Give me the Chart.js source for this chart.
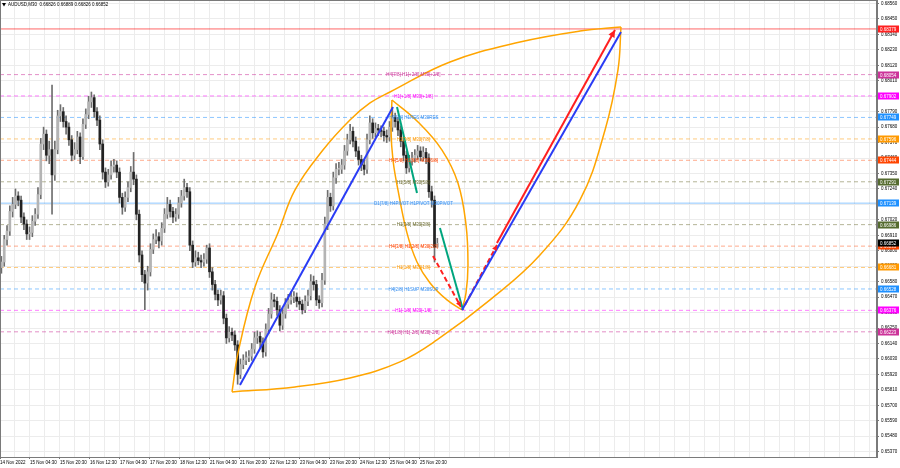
<!DOCTYPE html>
<html>
<head>
<meta charset="utf-8">
<title>AUDUSD,M30</title>
<script src="https://cdn.jsdelivr.net/npm/chart.js@4.4.0/dist/chart.umd.min.js"></script>
<style>
  html, body { margin: 0; padding: 0; background: #fff; }
  #wrap { width: 900px; height: 468px; }
</style>
</head>
<body>
<div id="wrap"><canvas id="chart" width="900" height="468"></canvas></div>
<script>
const symbolTitle = 'AUDUSD,M30  0.66826 0.66889 0.66826 0.66852';

// candles, one every 3 M30 bars; open = previous close
const firstOpen = 0.6668;
const closes = [
  0.6672,0.6688,0.6694,0.6708,0.6713,0.6719,0.6716,0.6704,0.6699,0.6692,
  0.6693,0.6701,0.6706,0.6720,0.6756,0.6763,0.6748,0.6752,0.6734,0.6752,
  0.6776,0.6779,0.6772,0.6768,0.6759,0.6748,0.6752,0.6761,0.6747,0.6770,
  0.6777,0.6786,0.6789,0.6779,0.6773,0.6756,0.6736,0.6729,0.6734,0.6740,
  0.6741,0.6736,0.6718,0.6711,0.6718,0.6725,0.6736,0.6731,0.6706,0.6677,
  0.6663,0.6657,0.6665,0.6681,0.6688,0.6690,0.6687,0.6696,0.6706,0.6713,
  0.6708,0.6704,0.6706,0.6714,0.6719,0.6725,0.6722,0.6684,0.6672,0.6675,
  0.6673,0.6672,0.6674,0.6682,0.6665,0.6656,0.6649,0.6645,0.6648,0.6632,
  0.6618,0.6622,0.6620,0.6613,0.6592,0.6599,0.6602,0.6604,0.6605,0.6610,
  0.6618,0.6619,0.6615,0.6608,0.6624,0.6635,0.6645,0.6644,0.6638,0.6627,
  0.6635,0.6642,0.6645,0.6647,0.6647,0.6644,0.6642,0.6638,0.6644,0.6648,
  0.6658,0.6656,0.6645,0.6643,0.6659,0.6699,0.6718,0.6712,0.6732,0.6738,
  0.6738,0.6741,0.6751,0.6759,0.6765,0.6758,0.6751,0.6745,0.6741,0.6738,
  0.6759,0.6771,0.6764,0.6767,0.6766,0.6765,0.6762,0.6761,0.6768,0.6775,
  0.6772,0.6766,0.6758,0.6748,0.6739,0.6744,0.6746,0.6748,0.6751,0.6747,
  0.6750,0.6746,0.6722,0.6716,0.66826,0.66852
];
const highs = [
  0.6676,0.6691,0.6698,0.6712,0.6718,0.6724,0.6722,0.6719,0.6707,0.6702,
  0.6697,0.6705,0.6710,0.6725,0.6760,0.6768,0.6766,0.6758,0.6798,0.6758,
  0.6780,0.6784,0.6782,0.6776,0.6771,0.6762,0.6757,0.6765,0.6764,0.6774,
  0.6781,0.6790,0.6793,0.6791,0.6782,0.6776,0.6759,0.6739,0.6738,0.6744,
  0.6745,0.6744,0.6739,0.6721,0.6722,0.6729,0.6740,0.6750,0.6734,0.6709,
  0.6680,0.6666,0.6669,0.6685,0.6692,0.6695,0.6693,0.6700,0.6710,0.6718,
  0.6716,0.6711,0.6710,0.6718,0.6723,0.6731,0.6728,0.6725,0.6687,0.6680,
  0.6679,0.6677,0.6678,0.6684,0.6685,0.6668,0.6659,0.6652,0.6652,0.6651,
  0.6635,0.6626,0.6625,0.6623,0.6616,0.6603,0.6606,0.6608,0.6609,0.6614,
  0.6622,0.6623,0.6622,0.6618,0.6628,0.6639,0.6650,0.6649,0.6647,0.6641,
  0.6639,0.6646,0.6649,0.6651,0.6651,0.6650,0.6647,0.6645,0.6648,0.6652,
  0.6663,0.6662,0.6659,0.6648,0.6664,0.6704,0.6723,0.6721,0.6736,0.6742,
  0.6743,0.6745,0.6755,0.6763,0.6770,0.6768,0.6761,0.6754,0.6748,0.6745,
  0.6763,0.6776,0.6774,0.6771,0.6770,0.6769,0.6768,0.6766,0.6772,0.6781,
  0.6778,0.6775,0.6769,0.6761,0.6751,0.6748,0.6750,0.6752,0.6755,0.6754,
  0.6754,0.6753,0.6749,0.6726,0.6719,0.66889
];
const lows = [
  0.6664,0.6669,0.6684,0.6691,0.6704,0.6710,0.6712,0.6700,0.6695,0.6688,
  0.6688,0.6690,0.6698,0.6703,0.6717,0.6752,0.6744,0.6742,0.6706,0.6730,
  0.6749,0.6772,0.6768,0.6763,0.6755,0.6744,0.6745,0.6749,0.6742,0.6745,
  0.6767,0.6774,0.6782,0.6775,0.6769,0.6752,0.6731,0.6725,0.6726,0.6731,
  0.6736,0.6732,0.6714,0.6706,0.6708,0.6715,0.6722,0.6727,0.6702,0.6672,
  0.6658,0.6638,0.6652,0.6662,0.6678,0.6685,0.6682,0.6684,0.6693,0.6703,
  0.6704,0.6700,0.6701,0.6703,0.6711,0.6716,0.6718,0.6680,0.6668,0.6669,
  0.6670,0.6668,0.6669,0.6671,0.6661,0.6652,0.6645,0.6641,0.6642,0.6628,
  0.6614,0.6615,0.6616,0.6609,0.6585,0.6589,0.6596,0.6599,0.6601,0.6602,
  0.6607,0.6614,0.6611,0.6604,0.6605,0.6621,0.6632,0.6640,0.6634,0.6623,
  0.6624,0.6632,0.6639,0.6642,0.6643,0.6640,0.6638,0.6635,0.6636,0.6641,
  0.6645,0.6652,0.6641,0.6639,0.6640,0.6656,0.6695,0.6708,0.6709,0.6728,
  0.6734,0.6735,0.6738,0.6748,0.6756,0.6754,0.6747,0.6741,0.6737,0.6734,
  0.6735,0.6756,0.6760,0.6761,0.6762,0.6761,0.6758,0.6757,0.6758,0.6765,
  0.6768,0.6762,0.6754,0.6744,0.6735,0.6736,0.6741,0.6743,0.6745,0.6744,
  0.6744,0.6742,0.6718,0.6711,0.6672,0.66826
];

const timeLabels = [
  '14 Nov 2022', '15 Nov 04:30', '15 Nov 20:30', '16 Nov 12:30', '17 Nov 04:30',
  '17 Nov 20:30', '18 Nov 12:30', '21 Nov 04:30', '21 Nov 20:30', '22 Nov 12:30',
  '23 Nov 04:30', '23 Nov 20:30', '24 Nov 12:30', '25 Nov 04:30', '25 Nov 20:30'
];
const priceTicks = [
  0.65370, 0.65480, 0.65590, 0.65700, 0.65810, 0.65920, 0.66030, 0.66140, 0.66250, 0.66360,
  0.66470, 0.66580, 0.66690, 0.66800, 0.66910, 0.67020, 0.67130, 0.67240, 0.67350, 0.67460,
  0.67570, 0.67680, 0.67790, 0.67900, 0.68010, 0.68120, 0.68230, 0.68340, 0.68450, 0.68560
];

// Murrey levels
const levelPrices = [0.68379, 0.68054, 0.67902, 0.67749, 0.67596, 0.67444, 0.67291,
  0.67139, 0.66986, 0.66833, 0.66681, 0.66528, 0.66376, 0.66223];
const levelNames = [
  '', 'H4[7/8] H1[+2/8] M30[+2/8]', 'H1[+1/8] M30[+1/8]', 'H4[6/8] H1RES M30RES',
  'H1[7/8] M30[7/8]', 'H4[5/8] H1[6/8] M30[6/8]', 'H1[5/8] M30[5/8]',
  'D1[7/8] H4PIVOT H1PIVOT M30PIVOT', 'H1[3/8] M30[3/8]', 'H4[3/8] H1[2/8] M30[2/8]',
  'H1[1/8] M30[1/8]', 'H4[2/8] H1SUP M30SUP', 'H1[-1/8] M30[-1/8]', 'H4[1/8] H1[-2/8] M30[-2/8]'
];
const bidPrice = 0.66852;

// drawn objects: [time (M30 bars from 14 Nov 12:30), price]
const arcUpper = [[247.5,0.65795],[253.9,0.66073],[272.0,0.66542],[296.5,0.66927],[314.7,0.67233],
  [344.5,0.67517],[373.3,0.67731],[394.7,0.67852],[416.0,0.67930],[480.0,0.68144],
  [554.7,0.68286],[618.7,0.68364],[662.4,0.68393]];
const arcLower = [[247.5,0.65795],[314.7,0.65831],[373.3,0.65895],[426.7,0.66009],[466.1,0.66165],
  [522.7,0.66450],[576.0,0.66770],[618.7,0.67162],[645.4,0.67660],[659.2,0.68087],[662.4,0.68393]];
const lensLeft = [[418.1,0.67873],[417.1,0.67660],[419.2,0.67446],[424.5,0.67233],[434.1,0.66927],
  [444.8,0.66720],[458.7,0.66571],[476.8,0.66450],[492.8,0.66379]];
const lensRight = [[418.1,0.67873],[445.9,0.67717],[471.5,0.67517],[488.5,0.67283],[497.1,0.66984],
  [499.2,0.66699],[497.1,0.66500],[492.8,0.66379]];
const blueTrend1 = [[256.0,0.65845],[419.2,0.67823]];
const blueTrend2 = [[492.8,0.66379],[662.4,0.68357]];
const redTarget = [[530.1,0.66856],[656.0,0.68372]];
const greenTrend1 = [[423.5,0.67823],[444.8,0.67211]];
const greenTrend2 = [[469.3,0.66962],[493.9,0.66379]];
const redDash1 = [[461.9,0.66763],[491.7,0.66400]];
const redDash2 = [[496.0,0.66414],[530.1,0.66841]];

// --- styles ---
const BARS_PER_CANDLE = 3;
const X_MAX = 935.5;
const Y_MIN = 0.65332;
const Y_MAX = 0.68585;
const LABEL_X = 441;
const FONT = '"Liberation Sans", Arial, sans-serif';
const levelLineColors = ['rgba(255,0,0,0.6)', 'rgba(204,51,153,0.55)', 'rgba(255,0,255,0.5)',
  'rgba(30,144,255,0.5)', 'rgba(255,153,0,0.5)', 'rgba(255,69,0,0.45)', 'rgba(107,107,47,0.5)',
  'rgba(30,144,255,0.5)', 'rgba(107,107,47,0.5)', 'rgba(255,69,0,0.45)', 'rgba(255,153,0,0.5)',
  'rgba(30,144,255,0.5)', 'rgba(255,0,255,0.5)', 'rgba(204,51,153,0.55)'];
const levelTextColors = ['#ff0000', '#cc3399', '#ff00ff', '#3a8fef', '#ff9900', '#ff4500', '#6b6b2f',
  '#3a8fef', '#6b6b2f', '#ff4500', '#ff9900', '#3a8fef', '#ff00ff', '#cc3399'];
const levelTagColors = ['#ff2020', '#cc3399', '#ff00ff', '#1e90ff', '#ff9900', '#ff4500', '#556b2f',
  '#1e90ff', '#556b2f', '#ff4500', '#ff9900', '#1e90ff', '#ff00ff', '#cc3399'];
const levelDashes = [[], [4, 3], [4, 3], [4, 3], [4, 3], [4, 3], [4, 3], [], [4, 3], [4, 3], [4, 3], [4, 3], [4, 3], [4, 3]];

document.addEventListener('DOMContentLoaded', () => {
    buildChart();
});

function pts(list) {
    return list.map(p => ({ x: p[0], y: p[1] }));
}

function lineSet(list, color, width, extra) {
    return Object.assign({
        type: 'line', data: pts(list), borderColor: color, borderWidth: width,
        pointRadius: 0, fill: false, order: 0
    }, extra || {});
}

function drawArrowHead(ctx, x1, y1, x2, y2, color, size) {
    const a = Math.atan2(y2 - y1, x2 - x1);
    ctx.fillStyle = color;
    ctx.beginPath();
    ctx.moveTo(x2, y2);
    ctx.lineTo(x2 - size * Math.cos(a - 0.45), y2 - size * Math.sin(a - 0.45));
    ctx.lineTo(x2 - size * Math.cos(a + 0.45), y2 - size * Math.sin(a + 0.45));
    ctx.closePath();
    ctx.fill();
}

const mt4Decor = {
    id: 'mt4Decor',
    afterDatasetsDraw(chart) {
        const { ctx, scales: { x, y } } = chart;
        ctx.save();
        // level captions
        ctx.font = '4.5px ' + FONT;
        ctx.textAlign = 'center';
        ctx.textBaseline = 'middle';
        levelPrices.forEach((p, i) => {
            if (!levelNames[i]) return;
            ctx.fillStyle = levelTextColors[i];
            ctx.fillText(levelNames[i], x.getPixelForValue(LABEL_X), y.getPixelForValue(p) + 0.5);
        });
        // arrow heads
        [[redTarget, '#ff2020', 8], [redDash1, '#ff2020', 6], [redDash2, '#ff2020', 6]].forEach(([seg, c, s]) => {
            drawArrowHead(ctx,
                x.getPixelForValue(seg[0][0]), y.getPixelForValue(seg[0][1]),
                x.getPixelForValue(seg[1][0]), y.getPixelForValue(seg[1][1]), c, s);
        });
        ctx.restore();
    },
    afterDraw(chart) {
        const { ctx, chartArea: a, scales: { y } } = chart;
        ctx.save();
        ctx.strokeStyle = '#7a7a7a';
        ctx.lineWidth = 1;
        ctx.strokeRect(a.left + 0.5, a.top + 0.5, a.right - a.left - 1, a.bottom - a.top);

        // price tags on the right axis
        ctx.font = '4.5px ' + FONT;
        ctx.textAlign = 'left';
        ctx.textBaseline = 'middle';
        const tags = levelPrices.map((p, i) => [p, levelTagColors[i]]);
        tags.push([bidPrice, '#000000']);
        tags.sort((m, n) => m[0] - n[0]);
        tags.forEach(([p, c]) => {
            const py = Math.round(y.getPixelForValue(p));
            ctx.fillStyle = c;
            ctx.fillRect(a.right + 1, py - 3.5, 21, 7);
            ctx.fillStyle = '#fff';
            ctx.fillText(p.toFixed(5), a.right + 3, py + 0.3);
        });

        // title
        ctx.fillStyle = '#000';
        ctx.beginPath();
        ctx.moveTo(2, 3); ctx.lineTo(6, 3); ctx.lineTo(4, 6.5);
        ctx.closePath(); ctx.fill();
        ctx.fillText(symbolTitle, 8, 5);
        ctx.restore();
    }
};

function buildChart() {
    const candles = closes.map((c, i) => ({
        x: i * BARS_PER_CANDLE + BARS_PER_CANDLE / 2,
        o: i === 0 ? firstOpen : closes[i - 1],
        h: highs[i], l: lows[i], c: c
    }));

    const levelSets = levelPrices.map((p, i) => ({
        type: 'line',
        data: [{ x: 0, y: p }, { x: X_MAX, y: p }],
        borderColor: levelLineColors[i], borderWidth: 1, borderDash: levelDashes[i],
        pointRadius: 0, order: 5
    }));

    const datasets = [
        lineSet(blueTrend1, '#2a3cf5', 2),
        lineSet(blueTrend2, '#2a3cf5', 2),
        lineSet(redTarget, '#ff2020', 2),
        lineSet(greenTrend1, '#00a57e', 2),
        lineSet(greenTrend2, '#00a57e', 2),
        lineSet(redDash1, '#ff2020', 2, { borderDash: [5, 3] }),
        lineSet(redDash2, '#ff2020', 2, { borderDash: [5, 3] }),
        lineSet(arcUpper, '#ffa500', 1.5, { tension: 0.4 }),
        lineSet(arcLower, '#ffa500', 1.5, { tension: 0.4 }),
        lineSet(lensLeft, '#ffa500', 1.5, { tension: 0.4 }),
        lineSet(lensRight, '#ffa500', 1.5, { tension: 0.4 }),
        {
            type: 'bar',
            data: candles.map(k => ({ x: k.x, y: [k.o, k.c] })),
            backgroundColor: candles.map(k => k.c >= k.o ? '#b4b4b4' : '#222222'),
            barThickness: 2, minBarLength: 1, grouped: false, order: 2
        },
        {
            type: 'bar',
            data: candles.map(k => ({ x: k.x, y: [k.l, k.h] })),
            backgroundColor: '#6e6e6e',
            barThickness: 1, grouped: false, order: 3
        }
    ].concat(levelSets);

    Chart.defaults.font.family = FONT;
    new Chart(document.getElementById('chart').getContext('2d'), {
        type: 'bar',
        data: { datasets: datasets },
        plugins: [mt4Decor],
        options: {
            responsive: false,
            animation: false,
            events: [],
            layout: { padding: 0 },
            plugins: { legend: { display: false }, tooltip: { enabled: false } },
            scales: {
                x: {
                    type: 'linear', min: 0, max: X_MAX, offset: false,
                    afterBuildTicks: s => {
                        const t = [];
                        for (let v = 0; v <= X_MAX; v += 16) t.push({ value: v });
                        s.ticks = t;
                    },
                    afterFit: s => { s.height = 11; s.paddingLeft = 0; s.paddingRight = 0; },
                    ticks: {
                        autoSkip: false, maxRotation: 0, minRotation: 0, align: 'start', padding: 1,
                        color: '#000', font: { size: 4.5 },
                        callback: v => (v % 32 === 0 && v / 32 < timeLabels.length) ? timeLabels[v / 32] : ''
                    },
                    grid: {
                        color: '#ececec', offset: false, tickLength: 2,
                        tickColor: c => (c.index % 2 === 0 && c.index / 2 < timeLabels.length) ? '#777' : 'rgba(0,0,0,0)'
                    },
                    border: { color: '#7a7a7a' }
                },
                y: {
                    type: 'linear', position: 'right', min: Y_MIN, max: Y_MAX,
                    afterBuildTicks: s => { s.ticks = priceTicks.map(v => ({ value: v })); },
                    afterFit: s => { s.width = 23; s.paddingTop = 0; s.paddingBottom = 0; },
                    ticks: { padding: 2, color: '#000', font: { size: 4.5 }, callback: v => v.toFixed(5) },
                    grid: { color: '#ececec', tickLength: 2, tickColor: '#777' },
                    border: { color: '#7a7a7a' }
                }
            }
        }
    });
}
</script>
</body>
</html>
